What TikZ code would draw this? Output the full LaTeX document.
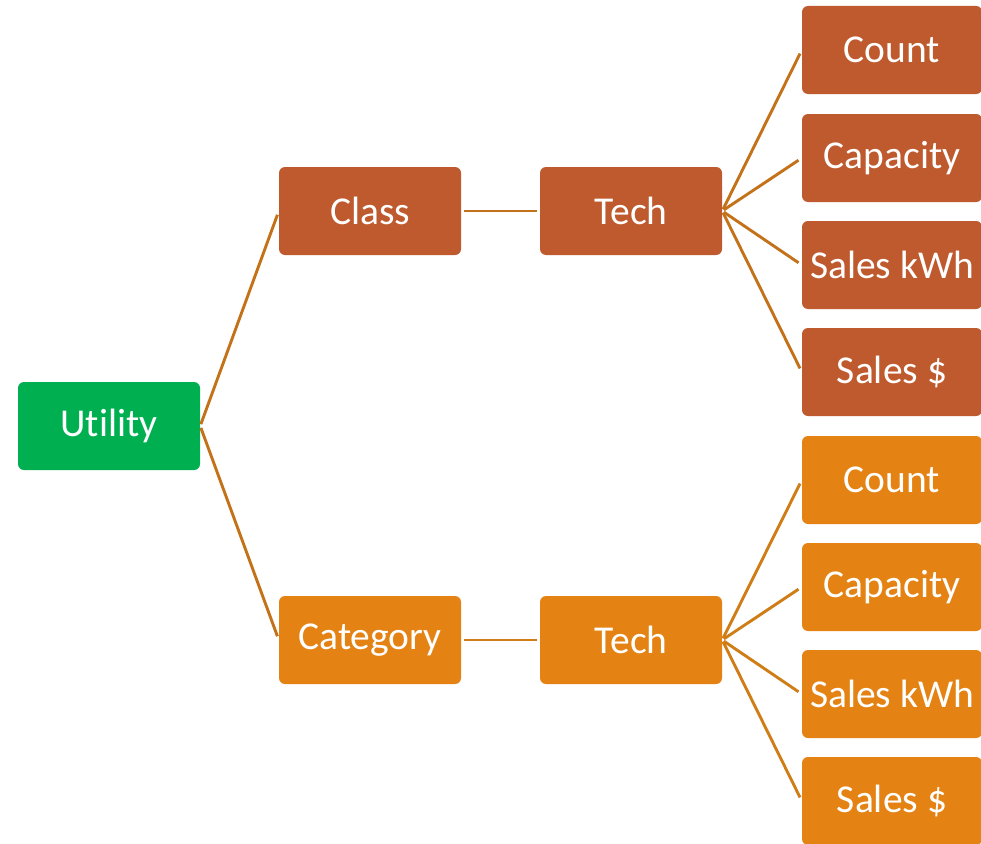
\documentclass[tikz,border=0pt]{standalone}
\usepackage{fontspec}
\setmainfont[Ligatures={NoCommon}]{Carlito}
\definecolor{rust}{HTML}{BE5A2D}
\definecolor{amber}{HTML}{E48313}
\definecolor{leafgreen}{HTML}{00B050}
\definecolor{linerust}{HTML}{C4721A}
\definecolor{lineamber}{HTML}{CF7D17}
\begin{document}
\begin{tikzpicture}[x=1pt,y=-1pt,
  box/.style={rectangle, rounded corners=6pt, inner sep=0pt, minimum height=88pt, text=white, font=\fontsize{39.5}{44}\selectfont},
  midbox/.style={box, minimum width=182pt},
  leafbox/.style={box, minimum width=180pt},
  conn/.style={line width=2.9pt, shorten <=2pt, shorten >=4pt}]
\useasboundingbox (0,0) rectangle (981,843);
\begin{scope}
\clip (0,0) rectangle (981,843);
\node[midbox, fill=leafgreen] (util) at (109,426) {Utility};
\node[midbox, fill=rust] (class) at (370,211) {Class};
\node[midbox, fill=rust] (tech1) at (631,211) {Tech};
\node[midbox, fill=amber] (cat) at (370,640) {Category};
\node[midbox, fill=amber] (tech2) at (631,640) {Tech};
\node[leafbox, fill=rust] (a1) at (892,50) {Count};
\node[leafbox, fill=rust] (a2) at (892,158) {Capacity};
\node[leafbox, fill=rust] (a3) at (892,265) {Sales kWh};
\node[leafbox, fill=rust] (a4) at (892,372) {Sales \$};
\node[leafbox, fill=amber] (b1) at (892,480) {Count};
\node[leafbox, fill=amber] (b2) at (892,587) {Capacity};
\node[leafbox, fill=amber] (b3) at (892,694) {Sales kWh};
\node[leafbox, fill=amber] (b4) at (892,801) {Sales \$};
\end{scope}
\draw[conn, draw=linerust] (util.east) -- (class.west);
\draw[conn, draw=linerust] (util.east) -- (cat.west);
\draw[conn, draw=linerust, shorten <=3pt, shorten >=3pt] (class.east) -- (tech1.west);
\draw[conn, draw=lineamber, shorten <=3pt, shorten >=3pt] (cat.east) -- (tech2.west);
\foreach \n in {a1,a2,a3,a4} \draw[conn, draw=linerust] (tech1.east) -- (\n.west);
\foreach \n in {b1,b2,b3,b4} \draw[conn, draw=lineamber] (tech2.east) -- (\n.west);
\end{tikzpicture}
\end{document}
